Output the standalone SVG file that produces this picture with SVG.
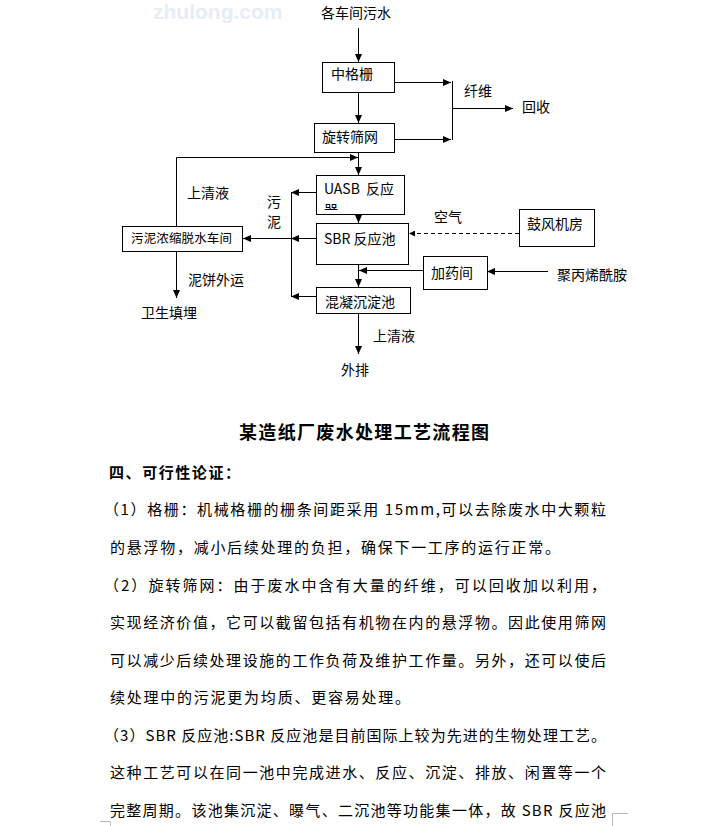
<svg xmlns="http://www.w3.org/2000/svg" width="716" height="826" viewBox="0 0 716 826">
<defs>
<style>
.t{font-family:"Noto Sans CJK SC","Noto Sans",sans-serif;font-size:14px;fill:#000}
.s{font-size:12.5px}
.b{font-family:"Noto Sans CJK SC","Noto Sans",sans-serif;font-size:15px;fill:#000}
.bx{fill:#fff;stroke:#000;stroke-width:1}
.ln{fill:none;stroke:#000;stroke-width:1}
.dash{stroke-dasharray:4 3}
.wm{font-family:"Liberation Sans",Arial,sans-serif;font-weight:bold;font-size:21px;fill:#e6edf5}
</style>
<marker id="arr" markerUnits="userSpaceOnUse" markerWidth="8" markerHeight="7" refX="8" refY="3.5" orient="auto">
<path d="M0,0 L8,3.5 L0,7 z" fill="#000"/>
</marker>
<marker id="arrs" markerUnits="userSpaceOnUse" markerWidth="6" markerHeight="6" refX="6" refY="3" orient="auto">
<path d="M0,0 L6,3 L0,6 z" fill="#000"/>
</marker>
<clipPath id="clipU"><rect x="316" y="175" width="88" height="35"/></clipPath>
</defs>
<rect width="716" height="826" fill="#fff"/>
<text class="wm" x="153" y="19">zhulong.com</text>

<g id="connectors">
<path class="ln" d="M358.5,28 V62" marker-end="url(#arr)"/>
<path class="ln" d="M358.5,92 V123" marker-end="url(#arr)"/>
<path class="ln" d="M394,82.5 H451" marker-end="url(#arr)"/>
<path class="ln" d="M394,139.5 H451" marker-end="url(#arr)"/>
<path class="ln" d="M452.5,81 V140"/>
<path class="ln" d="M452,108.5 H513" marker-end="url(#arr)"/>
<path class="ln" d="M358.5,152 V175" marker-end="url(#arr)"/>
<path class="ln" d="M176.5,226 V157.5 H358" marker-end="url(#arr)"/>
<path class="ln" d="M358.5,203 V223" marker-end="url(#arr)"/>
<path class="ln" d="M358.5,264 V287" marker-end="url(#arr)"/>
<path class="ln" d="M423,270.5 H359" marker-end="url(#arr)"/>
<path class="ln" d="M358.5,313 V354" marker-end="url(#arr)"/>
<path class="ln" d="M291.5,192 V296.5"/>
<path class="ln" d="M316,192.5 H291" marker-end="url(#arr)"/>
<path class="ln" d="M316,238.5 H291" marker-end="url(#arr)"/>
<path class="ln" d="M291,238.5 H243" marker-end="url(#arr)"/>
<path class="ln" d="M316,296.5 H291" marker-end="url(#arr)"/>
<path class="ln" d="M176.5,251 V298" marker-end="url(#arr)"/>
<path class="ln" d="M548,271.5 H487" marker-end="url(#arr)"/>
<path class="ln dash" d="M519,233.5 H409" marker-end="url(#arrs)"/>
</g>

<g id="n-source"><text class="t" x="321" y="18">各车间污水</text></g>
<g id="n-zhonggeshan"><rect class="bx" x="322.5" y="62.5" width="72" height="30"/><text class="t" x="331" y="79">中格栅</text></g>
<g id="n-xuanzhuan"><rect class="bx" x="314.5" y="123.5" width="80" height="29"/><text class="t" x="322" y="142">旋转筛网</text></g>
<g id="n-fiber"><text class="t" x="464" y="96">纤维</text></g>
<g id="n-huishou"><text class="t" x="522" y="112">回收</text></g>
<g id="n-uasb"><rect class="bx" x="316.5" y="175.5" width="88" height="39"/>
<g clip-path="url(#clipU)"><text class="t" x="324" y="194">UASB <tspan dx="3">反应</tspan></text><text class="t" x="324" y="215">器</text></g></g>
<g id="n-sbr"><rect class="bx" x="316.5" y="223.5" width="92" height="41"/><text class="t" x="324" y="244">SBR 反应池</text></g>
<g id="n-hunning"><rect class="bx" x="316.5" y="287.5" width="94" height="26"/><text class="t" x="325" y="307">混凝沉淀池</text></g>
<g id="n-jiayao"><rect class="bx" x="423.5" y="256.5" width="64" height="33"/><text class="t" x="431" y="278">加药间</text></g>
<g id="n-gufeng"><rect class="bx" x="519.5" y="209.5" width="75" height="37"/><text class="t" x="527" y="229">鼓风机房</text></g>
<g id="n-air"><text class="t" x="434" y="222">空气</text></g>
<g id="n-pam"><text class="t" x="557" y="280">聚丙烯酰胺</text></g>
<g id="n-wuni-room"><rect class="bx" x="122.5" y="226.5" width="120" height="25"/><text class="t s" x="131" y="243" textLength="101" lengthAdjust="spacing">污泥浓缩脱水车间</text></g>
<g id="n-qingye1"><text class="t" x="187" y="198">上清液</text></g>
<g id="n-wuni"><text class="t" x="267" y="207">污</text><text class="t" x="267" y="227">泥</text></g>
<g id="n-nibing"><text class="t" x="188" y="285">泥饼外运</text></g>
<g id="n-landfill"><text class="t" x="141" y="318">卫生填埋</text></g>
<g id="n-qingye2"><text class="t" x="373" y="341">上清液</text></g>
<g id="n-waipai"><text class="t" x="341" y="375">外排</text></g>

<text x="239" y="439" font-family="Noto Sans CJK SC, sans-serif" font-weight="bold" font-size="18" textLength="250" lengthAdjust="spacing">某造纸厂废水处理工艺流程图</text>
<text x="109" y="478" font-family="Noto Sans CJK SC, sans-serif" font-weight="bold" font-size="15" textLength="131" lengthAdjust="spacing">四、可行性论证：</text>

<text class="b" x="104" y="515" textLength="502" lengthAdjust="spacing">（1）格栅：机械格栅的栅条间距采用 15mm,可以去除废水中大颗粒</text>
<text class="b" x="110" y="553" textLength="450" lengthAdjust="spacing">的悬浮物，减小后续处理的负担，确保下一工序的运行正常。</text>
<text class="b" x="104" y="591" textLength="502" lengthAdjust="spacing">（2）旋转筛网：由于废水中含有大量的纤维，可以回收加以利用，</text>
<text class="b" x="110" y="628" textLength="496" lengthAdjust="spacing">实现经济价值，它可以截留包括有机物在内的悬浮物。因此使用筛网</text>
<text class="b" x="110" y="666" textLength="496" lengthAdjust="spacing">可以减少后续处理设施的工作负荷及维护工作量。另外，还可以使后</text>
<text class="b" x="110" y="703" textLength="300" lengthAdjust="spacing">续处理中的污泥更为均质、更容易处理。</text>
<text class="b" x="104" y="741" textLength="502" lengthAdjust="spacing">（3）SBR 反应池:SBR 反应池是目前国际上较为先进的生物处理工艺。</text>
<text class="b" x="110" y="778" textLength="496" lengthAdjust="spacing">这种工艺可以在同一池中完成进水、反应、沉淀、排放、闲置等一个</text>
<text class="b" x="110" y="816" textLength="496" lengthAdjust="spacing">完整周期。该池集沉淀、曝气、二沉池等功能集一体，故 SBR 反应池</text>

<path d="M100,821.5 H110.5 V826" fill="none" stroke="#bbb" stroke-width="1"/>
<path d="M612.5,826 V813.5 H628" fill="none" stroke="#bbb" stroke-width="1"/>
</svg>
